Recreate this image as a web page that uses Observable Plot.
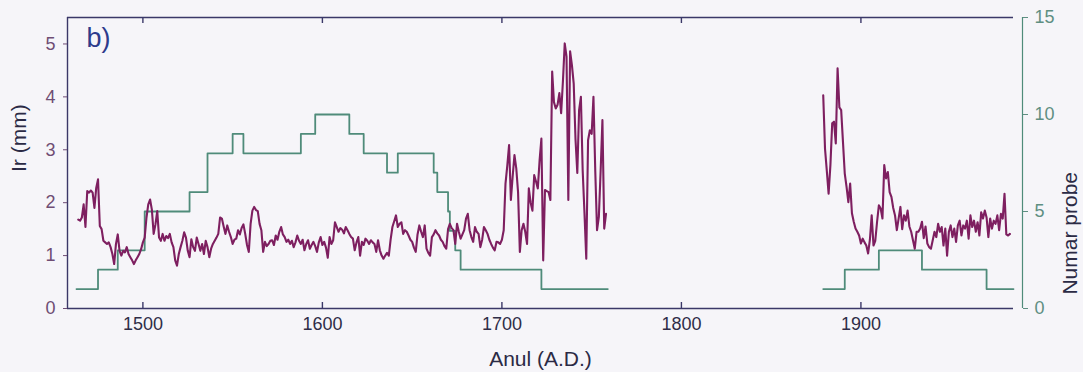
<!DOCTYPE html>
<html>
<head>
<meta charset="utf-8">
<script src="https://cdn.jsdelivr.net/npm/d3@7"></script>
<script src="https://cdn.jsdelivr.net/npm/@observablehq/plot@0.6"></script>
<style>
  html, body { margin: 0; padding: 0; background: #f6f5f9; }
  #chart { width: 1083px; height: 372px; }
</style>
</head>
<body>
<div id="chart"></div>
<script>
// ---- tick labels / axis data ----
const xTicks = [1500, 1600, 1700, 1800, 1900];
const leftTicks = [0, 1, 2, 3, 4, 5];
const rightTicks = [0, 5, 10, 15];
const xDomain = [1458, 1985];
const leftMax = 5.5;   // Ir (mm) at top of frame
const rightMax = 15;   // Numar probe at top of frame

// ---- ring width (Ir, mm), annual, segment 1 starts 1464 ----
const rwStart1 = 1464;
const rwValues1 = [
  1.68,1.66,1.72,1.97,1.54,2.22,2.19,2.23,2.19,1.90,
  2.28,2.44,1.56,1.50,1.28,1.25,1.22,1.25,1.16,1.03,
  0.84,1.22,1.40,1.09,1.00,1.09,1.06,1.16,1.03,0.97,
  0.91,0.84,0.91,0.97,1.03,1.12,1.25,1.34,1.72,1.97,
  2.06,1.87,1.41,1.59,1.84,1.34,1.28,1.41,1.28,1.37,
  1.33,1.41,1.25,1.16,0.91,0.81,1.03,1.16,1.28,1.44,
  1.34,1.09,0.97,1.31,1.16,1.09,1.34,1.22,1.09,1.22,
  1.03,1.28,1.16,0.97,1.13,1.22,1.28,1.34,1.41,1.72,
  1.70,1.55,1.41,1.57,1.45,1.35,1.22,1.30,1.32,1.48,
  1.40,1.52,1.59,1.41,1.20,1.07,1.60,1.85,1.92,1.86,
  1.84,1.60,1.48,1.07,1.26,1.18,1.22,1.28,1.29,1.20,
  1.38,1.30,1.45,1.54,1.40,1.35,1.26,1.30,1.22,1.28,
  1.16,1.25,1.38,1.28,1.22,1.30,1.10,1.22,1.29,1.13,
  1.20,1.26,1.18,1.07,1.25,1.35,1.20,1.26,1.15,0.96,
  1.35,1.22,1.29,1.63,1.54,1.45,1.52,1.49,1.42,1.54,
  1.48,1.41,1.35,1.32,1.10,1.25,1.35,1.00,1.26,1.20,
  1.32,1.28,1.22,
  1.29,1.25,1.22,1.07,1.29,1.10,1.00,0.94,1.00,1.05,
  1.00,1.30,1.54,1.65,1.76,1.54,1.60,1.63,1.41,1.48,
  1.45,1.38,1.30,1.26,1.15,1.07,1.40,1.57,1.45,1.35,
  1.57,1.13,1.05,1.00,1.35,1.40,1.48,1.42,1.38,1.30,
  1.26,1.18,1.13,1.50,1.60,1.52,1.48,1.22,1.60,1.45,
  1.32,1.40,1.48,1.70,1.79,1.48,1.35,1.26,1.54,1.45,
  1.41,1.16,1.30,1.54,1.48,1.41,1.30,1.22,1.15,1.10,
  1.26,1.25,1.22,1.30,
  1.48,2.36,2.70,3.09,2.05,2.50,2.90,2.65,2.20,1.07,
  1.48,1.60,1.45,1.22,2.27,2.00,1.85,2.52,2.40,2.27,
  2.80,3.21,0.91,2.24,2.22,2.20,2.05,4.48,3.90,3.78,
  3.85,4.07,3.69,4.30,5.01,4.76,2.05,4.86,4.60,4.25,
  3.20,2.56,3.75,4.00,2.61,1.80,0.94,3.18,3.37,3.30,
  4.00,2.61,1.48,1.73,2.60,3.56,1.51,1.79
];

// ---- ring width segment 2 starts 1879 ----
const rwStart2 = 1879;
const rwValues2 = [
  4.03,3.02,2.60,2.17,2.71,3.50,3.53,3.12,4.54,3.80,
  3.75,3.15,2.55,2.30,2.01,2.36,1.80,1.64,1.51,1.45,
  1.38,1.23,1.32,1.25,1.19,1.04,1.30,1.76,1.19,1.28,
  1.64,1.95,1.89,1.70,2.71,2.46,2.58,2.20,2.11,1.90,
  1.76,1.48,1.70,1.92,1.50,1.76,1.66,1.85,1.55,1.45,
  1.29,1.13,1.45,1.45,1.51,1.64,1.33,1.55,1.23,1.16,
  1.13,1.29,1.45,1.35,1.60,1.45,1.54,1.19,1.51,1.00,
  1.45,1.57,1.35,1.51,1.26,1.57,1.66,1.38,1.57,1.51,
  1.66,1.32,1.76,1.54,1.66,1.45,1.63,1.38,1.82,1.70,
  1.85,1.72,1.35,1.70,1.51,1.66,1.60,1.76,1.48,1.79,
  1.70,2.17,1.40,1.38,1.41
];

// ---- sample depth (Numar probe), step changes ----
const depthYears1  = [1463,1475,1486,1501,1526,1536,1550,1556,1588,1596,1615,1623,1636,1642,1662,1664,1670,1671,1674,1677,1722,1759];
const depthValues1 = [1,2,3,5,6,8,9,8,9,10,9,8,7,8,7,6,5,4,3,2,1,1];
const depthYears2  = [1879,1891,1910,1934,1970,1985];
const depthValues2 = [1,2,3,2,1,1];

// ---- build tables ----
const rw = [
  ...rwValues1.map((v, i) => ({year: rwStart1 + i, value: v, seg: "a"})),
  ...rwValues2.map((v, i) => ({year: rwStart2 + i, value: v, seg: "b"}))
];
const k = leftMax / rightMax;
const depth = [
  ...depthYears1.map((y, i) => ({year: y, n: depthValues1[i], seg: "a"})),
  ...depthYears2.map((y, i) => ({year: y, n: depthValues2[i], seg: "b"}))
];

const purple = "#7e1f60";
const teal = "#4f8b7a";
const navy = "#3b3868";
const font = "'Liberation Sans', Arial, sans-serif";

const chart = Plot.plot({
  width: 1083,
  height: 372,
  marginLeft: 67,
  marginRight: 70,
  marginTop: 17,
  marginBottom: 64,
  style: {background: "#f6f5f9", fontFamily: font, overflow: "visible"},
  x: {domain: xDomain},
  y: {domain: [0, leftMax]},
  marks: [
    // frame: left, top, bottom (navy)
    Plot.ruleX([xDomain[0]], {stroke: navy, strokeWidth: 1.4}),
    Plot.ruleY([0, leftMax], {stroke: navy, strokeWidth: 1.4}),
    // right axis line (teal), offset from frame
    Plot.ruleX([xDomain[1]], {stroke: teal, strokeWidth: 1.2, dx: 9}),
    // inward x ticks top and bottom
    Plot.ruleX(xTicks, {stroke: navy, strokeWidth: 1.4, insetTop: 285}),
    Plot.ruleX(xTicks, {stroke: navy, strokeWidth: 1.4, insetBottom: 285}),
    // x tick labels
    Plot.axisX({anchor: "bottom", ticks: xTicks, tickSize: 0, tickPadding: 9, tickFormat: d => String(d), fontSize: 18, color: "#2f2d48", label: null}),
    // left axis
    Plot.axisY({anchor: "left", ticks: leftTicks, tickSize: 4, tickPadding: 8, tickFormat: d => String(d), fontSize: 18, color: "#6f4d74", label: null}),
    // right axis (Numar probe), mapped through the shared scale
    Plot.axisY({anchor: "right", ticks: rightTicks.map(n => n * k), tickFormat: d => String(Math.round(d / k)), tickSize: 5, tickPadding: 7, dx: 9, fontSize: 18, color: "#5f8f82", label: null}),
    // series
    Plot.line(depth, {x: "year", y: d => d.n * k, z: "seg", curve: "step-after", stroke: teal, strokeWidth: 1.8}),
    Plot.line(rw, {x: "year", y: "value", z: "seg", stroke: purple, strokeWidth: 2.1, strokeLinejoin: "round"}),
    // texts
    Plot.text(["b)"], {frameAnchor: "top-left", dx: 19, dy: 21, textAnchor: "start", lineAnchor: "middle", fontSize: 27, fill: "#2e3b8c"}),
    Plot.text(["Anul (A.D.)"], {frameAnchor: "bottom", dy: 51, lineAnchor: "middle", fontSize: 21, fill: "#2b2a45"}),
    Plot.text(["Ir (mm)"], {frameAnchor: "left", dx: -48, dy: 9, rotate: -90, lineAnchor: "middle", fontSize: 21, fill: "#2b2a45"}),
    Plot.text(["Numar probe"], {frameAnchor: "right", dx: 57, dy: 9, rotate: -90, lineAnchor: "middle", fontSize: 21, fill: "#2b2a45"})
  ]
});
document.getElementById("chart").appendChild(chart);
</script>
</body>
</html>
